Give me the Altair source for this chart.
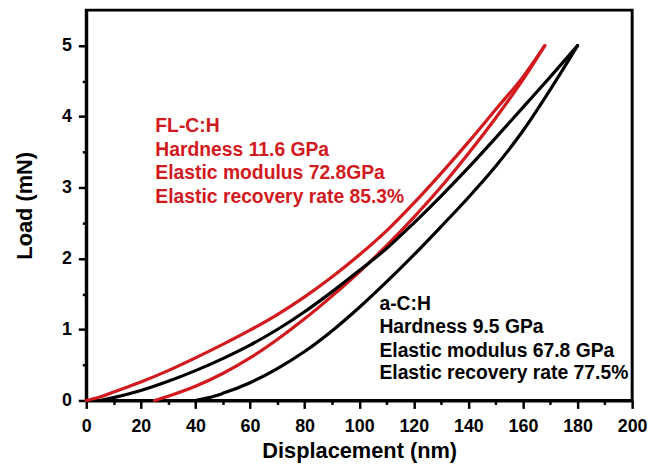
import altair as alt
import pandas as pd

# ---- data ----
red_load_x = [0, 5, 10, 20, 30, 40, 50, 60, 70, 80, 90, 100, 110, 120, 130, 140, 150, 160, 168]
red_load_y = [0, 0.05, 0.12, 0.26, 0.42, 0.60, 0.79, 0.99, 1.21, 1.46, 1.74, 2.05, 2.39, 2.78, 3.20, 3.64, 4.10, 4.56, 5.0]
red_unload_x = [168, 160, 150, 140, 130, 120, 110, 100, 90, 80, 70, 60, 50, 40, 30, 25]
red_unload_y = [5.0, 4.52, 3.98, 3.48, 3.01, 2.58, 2.18, 1.81, 1.47, 1.15, 0.86, 0.60, 0.38, 0.20, 0.06, 0]
blk_load_x = [5, 10, 20, 30, 40, 50, 60, 70, 80, 90, 100, 110, 120, 130, 140, 150, 160, 170, 180]
blk_load_y = [0, 0.04, 0.14, 0.27, 0.42, 0.59, 0.78, 1.00, 1.25, 1.53, 1.83, 2.14, 2.50, 2.88, 3.28, 3.70, 4.13, 4.56, 5.0]
blk_unload_x = [180, 170, 160, 150, 140, 130, 120, 110, 100, 90, 80, 70, 60, 50, 45, 40]
blk_unload_y = [5.0, 4.38, 3.80, 3.30, 2.86, 2.45, 2.05, 1.67, 1.31, 0.98, 0.69, 0.45, 0.25, 0.10, 0.04, 0]

samples = ["FL-C:H", "a-C:H"]
sample_colors = ["#d2191e", "#000000"]

red_text = ["FL-C:H", "Hardness 11.6 GPa", "Elastic modulus 72.8GPa", "Elastic recovery rate 85.3%"]
red_text_x = [25.3, 25.3, 25.3, 25.3]
red_text_y = [3.87, 3.53, 3.20, 2.86]
blk_text = ["a-C:H", "Hardness 9.5 GPa", "Elastic modulus 67.8 GPa", "Elastic recovery rate 77.5%"]
blk_text_x = [107.4, 107.4, 107.4, 107.4]
blk_text_y = [1.355, 1.03, 0.70, 0.38]

x_ticks = [0, 10, 20, 30, 40, 50, 60, 70, 80, 90, 100, 110, 120, 130, 140, 150, 160, 170, 180, 190, 200]
y_ticks = [0, 0.5, 1, 1.5, 2, 2.5, 3, 3.5, 4, 4.5, 5]

# ---- build tables ----
rows = []
def add(xs, ys, sample, seg):
    for i, (a, b) in enumerate(zip(xs, ys)):
        rows.append({"x": a, "y": b, "sample": sample, "seg": seg, "i": i})
add(red_load_x, red_load_y, "FL-C:H", "FL load")
add(red_unload_x, red_unload_y, "FL-C:H", "FL unload")
add(blk_load_x, blk_load_y, "a-C:H", "a load")
add(blk_unload_x, blk_unload_y, "a-C:H", "a unload")
df = pd.DataFrame(rows)

txt = pd.DataFrame(
    [{"x": a, "y": b, "t": t, "sample": "FL-C:H"} for a, b, t in zip(red_text_x, red_text_y, red_text)]
    + [{"x": a, "y": b, "t": t, "sample": "a-C:H"} for a, b, t in zip(blk_text_x, blk_text_y, blk_text)]
)

FONT = "Liberation Sans"
xscale = alt.Scale(domain=[0, 200], nice=False, zero=False)
yscale = alt.Scale(domain=[0, 5.5], nice=False, zero=False)
cscale = alt.Scale(domain=samples, range=sample_colors)

common = dict(
    tickWidth=2.5, domainWidth=3,
    labelFontSize=18, labelFont=FONT, labelFontWeight="bold", labelColor="black",
    titleFontSize=22, titleFont=FONT, titleFontWeight="bold", titleColor="black",
    grid=False,
)
xaxis = alt.Axis(
    values=x_ticks, title="Displacement (nm)", orient="bottom",
    labelExpr="datum.value % 20 === 0 ? format(datum.value, 'd') : ''",
    tickSize={"condition": {"test": "datum.value % 20 === 0", "value": 8}, "value": 4},
    labelPadding=9, titlePadding=6, labelFlush=False, **common)
yaxis = alt.Axis(
    values=y_ticks, title="Load (mN)", orient="left",
    labelExpr="datum.value % 1 === 0 ? format(datum.value, 'd') : ''",
    tickSize={"condition": {"test": "datum.value % 1 === 0", "value": 8}, "value": 4},
    labelPadding=7, titlePadding=25, **common)

lines = alt.Chart(df).mark_line(strokeWidth=3.2, strokeCap="round", strokeJoin="round", interpolate="monotone").encode(
    x=alt.X("x:Q", scale=xscale, axis=xaxis),
    y=alt.Y("y:Q", scale=yscale, axis=yaxis),
    color=alt.Color("sample:N", scale=cscale, legend=None),
    detail="seg:N",
    order="i:Q",
)

texts = alt.Chart(txt).mark_text(align="left", baseline="middle", font=FONT, fontWeight="bold", fontSize=19.5).encode(
    x=alt.X("x:Q", scale=xscale, axis=xaxis),
    y=alt.Y("y:Q", scale=yscale, axis=yaxis),
    text="t:N",
    color=alt.Color("sample:N", scale=cscale, legend=None),
)

chart = alt.layer(lines, texts).properties(
    width=551, height=394, padding={"left": 5, "top": 0, "right": 0, "bottom": 0}
).configure_view(stroke="black", strokeWidth=3).configure_axis(tickColor="black", domainColor="black")

chart.save("out.html", embed_options={"renderer": "svg", "actions": False})
